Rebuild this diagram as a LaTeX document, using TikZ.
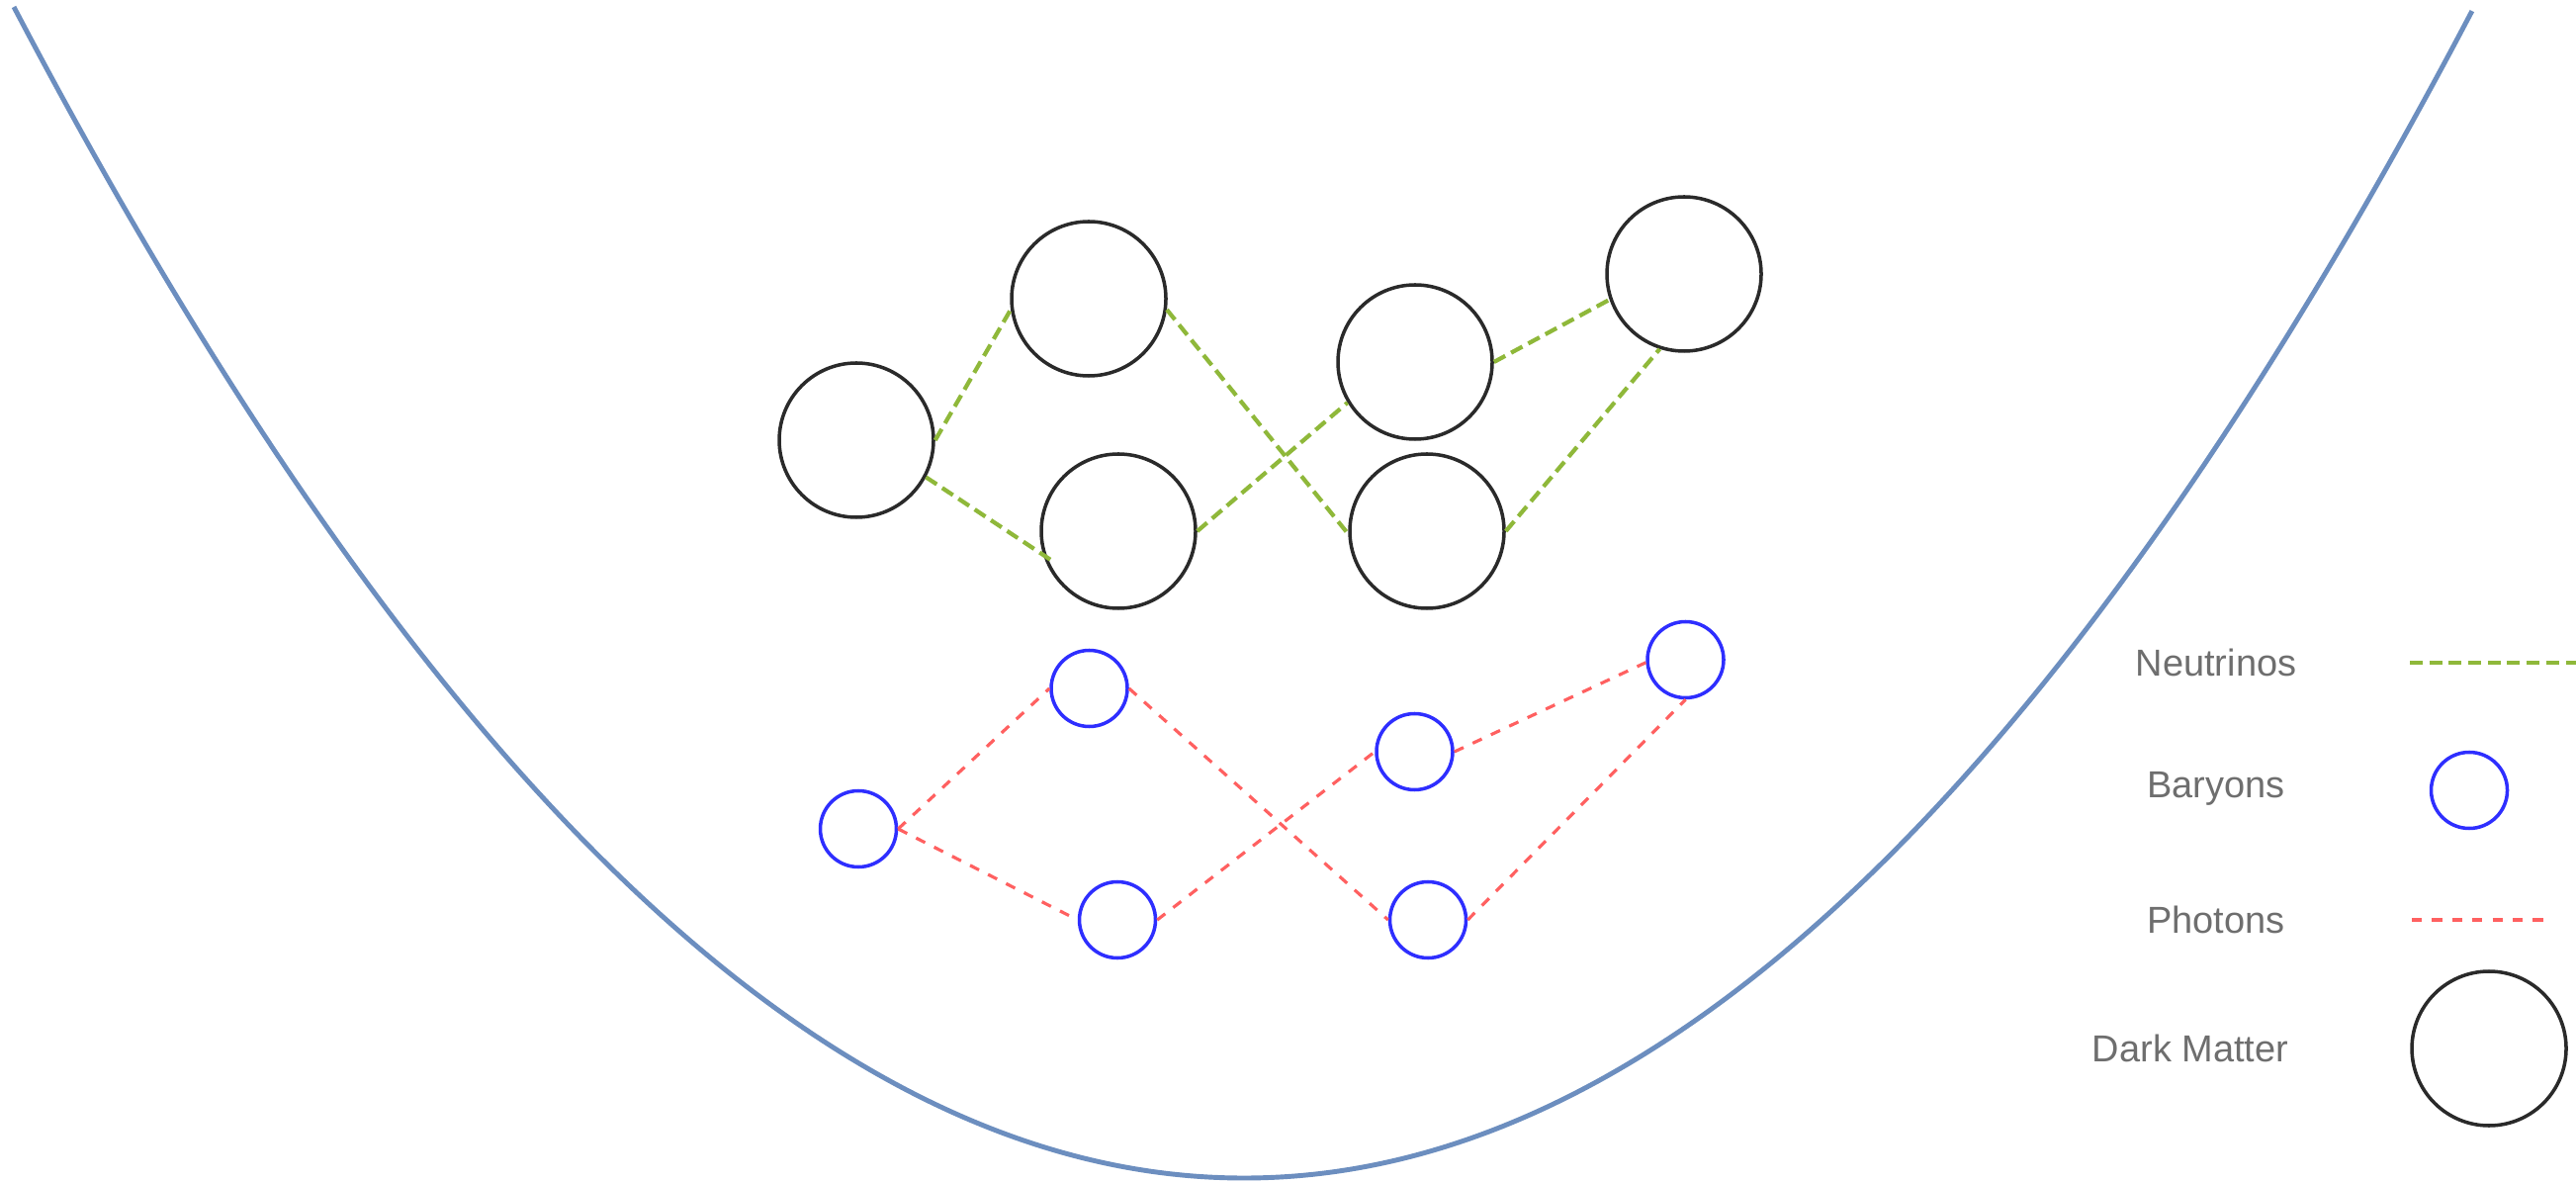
\documentclass[tikz,border=0pt]{standalone}
\usepackage{fontspec}
\setmainfont{Liberation Sans}
\usetikzlibrary{calc}
\definecolor{wellblue}{HTML}{6C8EBF}
\definecolor{nugreen}{HTML}{8FB83A}
\definecolor{barblue}{HTML}{2E2EFF}
\definecolor{phred}{HTML}{FF6060}
\definecolor{dmgray}{HTML}{2A2A2A}
\definecolor{labgray}{HTML}{6E6E6E}
\begin{document}
\begin{tikzpicture}[
  dm/.style={circle, draw=dmgray, line width=1pt, minimum size=1.56cm, inner sep=0pt},
  bar/.style={circle, draw=barblue, line width=1pt, minimum size=0.77cm, inner sep=0pt},
  nuline/.style={draw=nugreen, line width=1.2pt, dash pattern=on 3.7pt off 1.9pt},
  phline/.style={draw=phred, line width=0.9pt, dash pattern=on 2.9pt off 2.9pt},
  lab/.style={text=labgray, font=\fontsize{10.8}{13}\selectfont, inner sep=0pt},
  well/.style={draw=wellblue, line width=1.4pt}
]
\useasboundingbox (0,0) rectangle (26.05,11.95);

% potential well
\draw[well] plot[domain=0.14:25.0, samples=161, smooth] (\x, {0.04+0.0765*(\x-12.58)*(\x-12.58)});

% dark matter
\node[dm] (C1) at (8.66,7.50) {};
\node[dm] (C2) at (11.01,8.93) {};
\node[dm] (C3) at (11.31,6.58) {};
\node[dm] (C4) at (14.31,8.29) {};
\node[dm] (C5) at (14.43,6.58) {};
\node[dm] (C6) at (17.03,9.18) {};

% baryons
\node[bar] (B1) at (8.68,3.57) {};
\node[bar] (B2) at (11.015,4.99) {};
\node[bar] (B3) at (11.30,2.65) {};
\node[bar] (B4) at (14.305,4.35) {};
\node[bar] (B5) at (14.44,2.65) {};
\node[bar] (B6) at (17.045,5.28) {};

% neutrinos
\coordinate (C3in) at ($(C3.center)+(-0.67,-0.30)$);
\draw[nuline] (C1.east) -- (C2.188);
\draw[nuline] (C1.-28) -- (C3in);
\draw[nuline] (C2.-8) -- (C5.182);
\draw[nuline] (C3.east) -- (C4.211);
\draw[nuline] (C4.east) -- (C6.199);
\draw[nuline] (C5.east) -- (C6.252);

% photons
\draw[phline] (B1.east) -- (B2.west);
\draw[phline] (B1.east) -- (B3.west);
\draw[phline] (B2.east) -- (B5.west);
\draw[phline] (B3.east) -- (B4.west);
\draw[phline] (B4.east) -- (B6.184);
\draw[phline] (B5.east) -- (B6.south);

% legend
\node[lab] (tN) at (22.41,5.25) {Neutrinos};
\coordinate (nuA) at (24.37,5.25);
\coordinate (nuB) at (26.05,5.25);
\draw[nuline] (nuA) -- (nuB);
\node[lab] (tB) at (22.41,3.98) {Baryons};
\node[bar] (LB) at (24.97,3.96) {};
\node[lab] (tP) at (22.41,2.65) {Photons};
\coordinate (phA) at (24.39,2.65);
\coordinate (phB) at (25.72,2.65);
\draw[phline] (phA) -- (phB);
\node[lab] (tD) at (22.15,1.35) {Dark Matter};
\node[dm] (LD) at (25.17,1.35) {};
\end{tikzpicture}
\end{document}
